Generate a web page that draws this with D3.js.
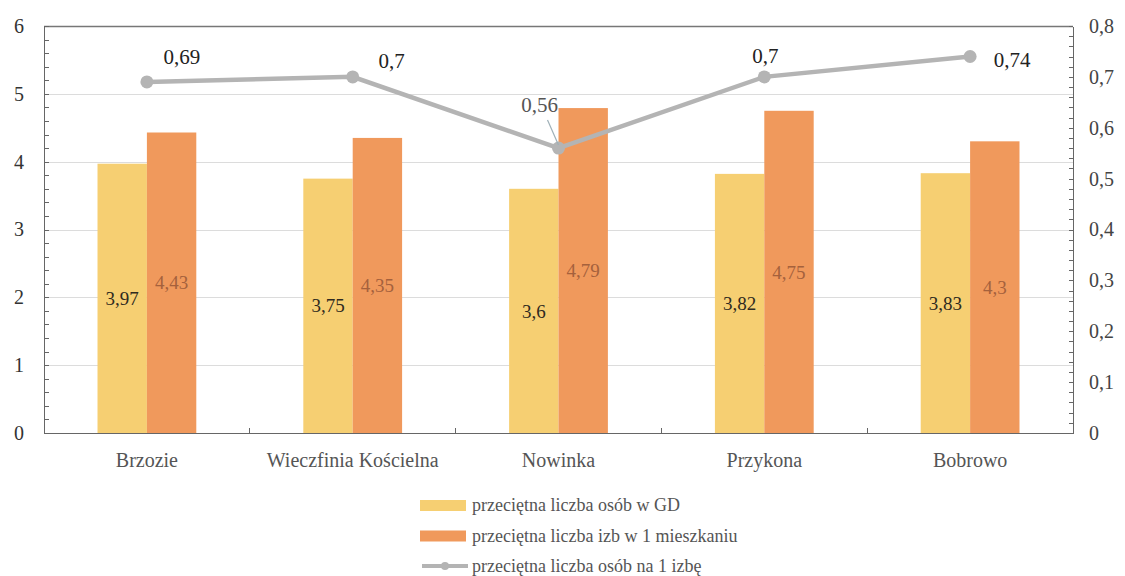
<!DOCTYPE html>
<head>
  <meta charset="utf-8">
  <title>Gospodarstwa domowe</title>
  <style>
    body {margin: 0; background: #fff; font-family: serif;}
    svg text {font-family: "Times New Roman", serif;}
    .grid line {stroke: #dcdcdc; stroke-width: 1; shape-rendering: crispEdges;}
    .grid path {display: none;}
    .axis path, .axis line {stroke: #666; fill: none; shape-rendering: crispEdges;}
  </style>
</head>
<body>
  <svg width="1125" height="576"></svg>
  <script src="https://cdn.jsdelivr.net/npm/d3@7"></script>
  <script>
    // data
    var categories = ["Brzozie", "Wieczfinia Kościelna", "Nowinka", "Przykona", "Bobrowo"];
    var osobGD = [3.97, 3.75, 3.6, 3.82, 3.83];
    var izbMieszkanie = [4.43, 4.35, 4.79, 4.75, 4.3];
    var osobIzba = [0.69, 0.7, 0.56, 0.7, 0.74];
    var leftTicks = [0, 1, 2, 3, 4, 5, 6];
    var rightTicks = [0, 0.1, 0.2, 0.3, 0.4, 0.5, 0.6, 0.7, 0.8];
    var legendLabels = ["przeciętna liczba osób w GD", "przeciętna liczba izb w 1 mieszkaniu", "przeciętna liczba osób na 1 izbę"];

    // where the line labels sit relative to their point
    var lineLabelOffset = [[35, -18], [39, -9], [-19, -36], [1, -14], [42, 10]];

    var svg = d3.select("svg"),
        margin = {top: 26, right: 52, bottom: 143, left: 44},
        width = 1125 - margin.left - margin.right,
        height = 576 - margin.top - margin.bottom,
        g = svg.append("g").attr("transform", "translate(" + margin.left + "," + margin.top + ")");

    var x = d3.scaleBand().domain(categories).range([0, width]);
    var xInner = d3.scaleBand().domain([0, 1]).range([x.bandwidth() * 0.26, x.bandwidth() * 0.74]);
    var y = d3.scaleLinear().domain([0, 6]).range([height, 0]);
    var y2 = d3.scaleLinear().domain([0, 0.8]).range([height, 0]);
    var colors = ["#f6cf72", "#f0995c"];
    var fmt = function(v) { return String(v).replace(".", ","); };

    // gridlines
    g.append("g").attr("class", "grid")
        .call(d3.axisLeft(y).tickValues(leftTicks.slice(1)).tickSize(-width).tickFormat(""));

    // top frame
    g.append("line").attr("x1", 0).attr("x2", width).attr("y1", 0.5).attr("y2", 0.5)
        .attr("stroke", "#777").attr("stroke-width", 1.5);

    // bars
    var series = [osobGD, izbMieszkanie];
    series.forEach(function(vals, s) {
      g.selectAll(".bar" + s)
        .data(vals)
        .enter().append("rect")
          .attr("x", function(d, i) { return x(categories[i]) + xInner(s); })
          .attr("y", function(d) { return y(d); })
          .attr("width", xInner.bandwidth())
          .attr("height", function(d) { return height - y(d); })
          .attr("fill", colors[s]);

      g.selectAll(".barlabel" + s)
        .data(vals)
        .enter().append("text")
          .attr("x", function(d, i) { return x(categories[i]) + xInner(s) + xInner.bandwidth() / 2; })
          .attr("y", function(d) { return y(d / 2); })
          .attr("dy", "0.35em")
          .attr("text-anchor", "middle")
          .attr("font-size", 19)
          .attr("fill", s == 0 ? "#2f2a20" : "#a5613c")
          .text(fmt);
    });

    // axes
    var left = g.append("g").attr("class", "axis")
        .call(d3.axisLeft(y).tickValues(leftTicks).tickSize(0).tickPadding(20).tickFormat(d3.format("d")));
    g.append("g").attr("class", "axis")
        .call(d3.axisRight(y).ticks(30).tickSize(5).tickFormat(""))
        .select(".domain").remove();

    var right = g.append("g").attr("class", "axis")
        .attr("transform", "translate(" + width + ",0)")
        .call(d3.axisRight(y2).tickValues(rightTicks).tickSize(0).tickPadding(16).tickFormat(function(d) { return d == 0 ? "0" : fmt(d.toFixed(1)); }));
    g.append("g").attr("class", "axis")
        .attr("transform", "translate(" + width + ",0)")
        .call(d3.axisLeft(y2).ticks(40).tickSize(4).tickFormat(""))
        .select(".domain").remove();

    var xAxis = g.append("g").attr("class", "axis")
        .attr("transform", "translate(0," + height + ")")
        .call(d3.axisBottom(x).tickSize(0).tickPadding(20));
    xAxis.selectAll(".sep")
        .data(categories.slice(1))
        .enter().append("line")
          .attr("class", "sep")
          .attr("x1", function(d) { return x(d); })
          .attr("x2", function(d) { return x(d); })
          .attr("y1", 0).attr("y2", -5);

    svg.selectAll(".axis").attr("font-family", null).attr("font-size", 20);
    left.selectAll("text").attr("fill", "#333");
    right.selectAll("text").attr("fill", "#444");
    xAxis.selectAll("text").attr("fill", "#555");

    // line series on right axis
    var line = d3.line()
        .x(function(d, i) { return x(categories[i]) + x.bandwidth() / 2; })
        .y(function(d) { return y2(d); });

    g.append("path")
        .datum(osobIzba)
        .attr("d", line)
        .attr("fill", "none")
        .attr("stroke", "#b4b4b4")
        .attr("stroke-width", 4.5);

    g.selectAll(".dot")
        .data(osobIzba)
        .enter().append("circle")
          .attr("cx", function(d, i) { return x(categories[i]) + x.bandwidth() / 2; })
          .attr("cy", function(d) { return y2(d); })
          .attr("r", 6.5)
          .attr("fill", "#b4b4b4");

    // leader for 0,56
    var nx = x(categories[2]) + x.bandwidth() / 2;
    g.append("line")
        .attr("x1", nx - 11).attr("y1", y2(osobIzba[2]) - 28)
        .attr("x2", nx).attr("y2", y2(osobIzba[2]) - 3)
        .attr("stroke", "#9fb0b8").attr("stroke-width", 1.2);

    g.selectAll(".linelabel")
        .data(osobIzba)
        .enter().append("text")
          .attr("x", function(d, i) { return x(categories[i]) + x.bandwidth() / 2 + lineLabelOffset[i][0]; })
          .attr("y", function(d, i) { return y2(d) + lineLabelOffset[i][1]; })
          .attr("text-anchor", "middle")
          .attr("font-size", 21)
          .attr("fill", function(d, i) { return i == 2 ? "#555" : "#222"; })
          .text(fmt);

    // legend
    var legend = svg.append("g").attr("transform", "translate(420,505)");
    var item = legend.selectAll("g")
        .data(legendLabels)
        .enter().append("g")
          .attr("transform", function(d, i) { return "translate(0," + (i * 30.5) + ")"; });

    item.filter(function(d, i) { return i < 2; }).append("rect")
        .attr("x", 0).attr("y", -5).attr("width", 46).attr("height", 11)
        .attr("fill", function(d, i) { return colors[i]; });
    var lineItem = item.filter(function(d, i) { return i == 2; });
    lineItem.append("line")
        .attr("x1", 2).attr("x2", 48).attr("y1", 0).attr("y2", 0)
        .attr("stroke", "#b4b4b4").attr("stroke-width", 4);
    lineItem.append("circle").attr("cx", 25).attr("cy", 0).attr("r", 4).attr("fill", "#b4b4b4");

    item.append("text")
        .attr("x", 52)
        .attr("dy", "0.35em")
        .attr("font-size", 18)
        .attr("fill", "#555")
        .text(function(d) { return d; });
  </script>
</body>
